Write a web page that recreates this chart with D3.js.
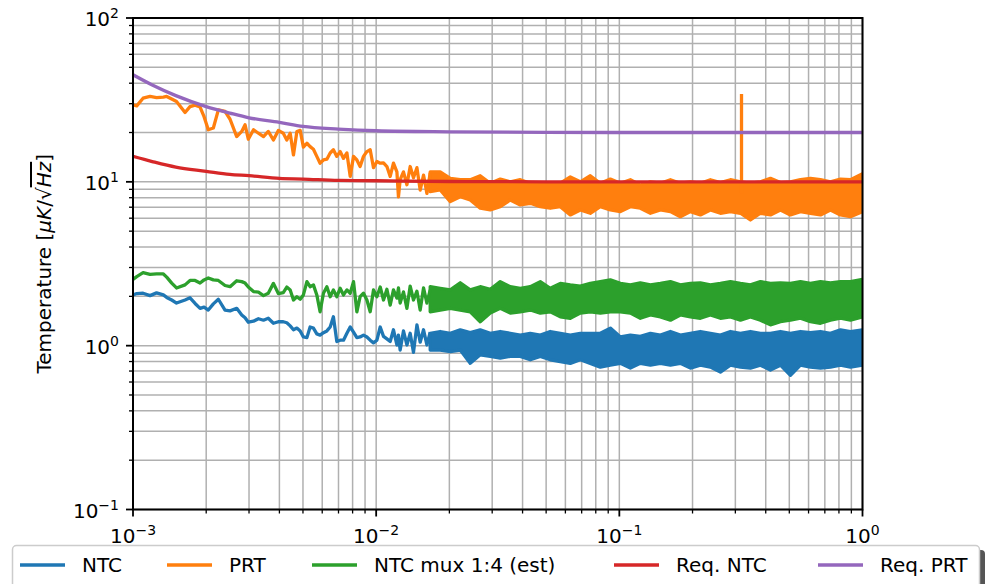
<!DOCTYPE html>
<html><head><meta charset="utf-8">
<script src="https://cdn.jsdelivr.net/npm/d3@7"></script>
<style>body{margin:0;background:#fff} svg{display:block} text{font-family:"DejaVu Sans",sans-serif;fill:#000}</style>
</head><body><svg id="c" width="1005" height="584"></svg>
<script>
// ---- data (frequency in Hz, temperature noise in uK/sqrt(Hz)) ----
const freqSparse = [0.001,0.001036,0.00110,0.001175,0.00125,0.001333,0.001376,0.001443,0.00151,0.001637,
  0.001716,0.00180,0.001887,0.00196,0.00204,0.00214,0.002244,0.00239,0.002507,0.00267,
  0.00280,0.00289,0.00298,0.00313,0.00328,0.00344,0.00360,0.00378,0.00396,0.00415,
  0.00429,0.00443,0.00457,0.00472,0.00487,0.00502,0.00519,0.00535,0.00552,0.00570,
  0.00588,0.00607,0.00627,0.00647,0.00667,0.00689,0.00711,0.00734,0.00758,0.00782,
  0.00807,0.00833,0.00859,0.00887,0.00916,0.00945,0.00975,0.01007,0.01039,0.01072,
  0.01107,0.01142,0.01178,0.01217,0.01235,0.01255,0.01295,0.01338,0.01380,0.01424,
  0.01471,0.01517,0.01566,0.01617,0.01668];
const prtSparse = [29.5,29.1,32.4,33.2,32.7,32.9,33.2,32.0,30.9,26.5,
  28.8,29.4,28.6,25.0,20.8,21.3,27.5,26.9,24.1,18.9,
  20.3,22.3,18.2,20.8,19.8,18.9,20.3,18.0,20.6,19.8,
  18.0,19.8,14.6,20.3,20.6,16.3,17.2,16.4,15.8,14.3,
  13.0,13.6,13.75,15.0,15.7,14.3,15.3,13.9,15.0,10.8,
  14.3,13.6,12.4,14.3,15.3,15.7,12.2,13.3,13.0,13.05,
  12.4,10.8,13.0,11.5,8.1,10.3,11.5,9.6,12.4,10.6,
  12.2,8.9,11.0,8.5,11.3];
const muxSparse = [2.54,2.64,2.79,2.72,2.74,2.74,2.62,2.41,2.25,2.35,
  2.50,2.50,2.41,2.52,2.59,2.52,2.50,2.33,2.29,2.49,
  2.46,2.41,2.28,2.14,2.12,2.02,2.09,2.40,2.08,2.11,
  2.28,2.19,1.90,1.99,1.92,2.04,2.46,2.29,2.35,2.04,
  1.61,2.09,2.29,1.99,2.19,1.99,2.24,2.04,2.19,2.09,
  2.46,1.61,1.99,2.09,1.90,1.61,2.19,1.99,2.28,1.90,
  2.21,1.77,2.19,1.95,2.25,1.82,2.13,1.69,2.31,1.90,
  2.15,1.65,2.25,1.82,2.19];
const ntcSparse = [2.04,2.08,2.09,2.02,2.10,2.04,1.97,1.90,1.82,1.90,
  1.96,1.81,1.69,1.72,1.65,1.80,1.92,1.65,1.63,1.69,
  1.54,1.48,1.39,1.41,1.46,1.43,1.47,1.37,1.40,1.40,
  1.38,1.32,1.25,1.28,1.23,1.13,1.12,1.30,1.28,1.18,
  1.16,1.20,1.23,1.30,1.50,1.06,1.08,1.08,1.19,1.30,
  1.21,1.12,1.13,1.16,1.13,1.08,1.04,1.08,1.30,1.14,
  1.10,1.06,1.25,1.01,1.16,0.94,1.23,1.01,1.19,0.91,
  1.34,1.05,1.25,1.01,1.21];

// dense high-frequency part: upper / lower envelope of the noise
const freqDense = [0.01668,0.01834,0.02017,0.02217,0.02437,0.02679,0.02946,0.03238,0.03560,0.03914,
  0.04303,0.04730,0.05200,0.05718,0.06286,0.06910,0.07597,0.08352,0.09183,0.1010,
  0.1110,0.1220,0.1342,0.1475,0.1622,0.1782,0.1960,0.2154,0.2368,0.2604,
  0.2863,0.3148,0.3460,0.3804,0.4182,0.4598,0.5054,0.5557,0.6109,0.6716,
  0.7383,0.8117,0.8924,1.0];
const prtHi = [11.5,11.5,10.5,10.3,10.3,10.9,9.81,10.4,10.0,10.3,9.81,9.89,9.81,9.81,10.7,10.0,10.9,9.81,10.4,9.81,
  10.3,9.57,10.0,9.81,10.3,9.81,10.0,9.81,10.3,9.89,10.3,10.0,9.81,10.0,10.5,9.89,10.0,10.3,10.5,10.3,10.0,10.4,10.3,11.2];
const prtLo = [8.71,8.92,7.57,8.12,7.75,6.90,6.74,7.05,7.75,7.23,7.40,7.05,6.90,7.05,6.28,6.74,6.43,7.05,6.74,6.58,
  7.05,6.90,6.43,6.74,6.58,6.13,6.58,6.28,6.74,6.43,6.58,6.43,5.85,6.43,6.28,6.74,6.28,6.58,6.43,6.28,6.74,6.28,6.13,6.58];
const muxHi = [2.29,2.24,2.19,2.42,2.19,2.29,2.21,2.46,2.29,2.24,2.29,2.46,2.24,2.40,2.35,2.31,2.40,2.46,2.52,2.40,
  2.35,2.42,2.35,2.40,2.46,2.35,2.40,2.42,2.35,2.40,2.46,2.40,2.35,2.46,2.40,2.42,2.40,2.46,2.40,2.46,2.42,2.46,2.46,2.54];
const muxLo = [1.61,1.65,1.69,1.65,1.61,1.40,1.58,1.69,1.58,1.61,1.65,1.58,1.61,1.50,1.47,1.58,1.61,1.58,1.61,1.61,
  1.58,1.47,1.54,1.50,1.43,1.54,1.50,1.47,1.54,1.47,1.50,1.43,1.50,1.43,1.34,1.40,1.43,1.47,1.40,1.37,1.43,1.47,1.43,1.50];
const ntcHi = [1.19,1.22,1.19,1.25,1.20,1.25,1.19,1.22,1.19,1.16,1.19,1.16,1.22,1.19,1.16,1.19,1.19,1.19,1.28,1.13,
  1.16,1.14,1.19,1.16,1.22,1.16,1.19,1.22,1.19,1.16,1.22,1.19,1.22,1.19,1.19,1.22,1.19,1.22,1.20,1.22,1.19,1.25,1.22,1.25];
const ntcLo = [0.94,0.94,0.92,0.94,0.78,0.88,0.86,0.84,0.86,0.86,0.82,0.86,0.82,0.80,0.78,0.82,0.78,0.74,0.76,0.78,
  0.73,0.78,0.76,0.78,0.76,0.78,0.73,0.76,0.74,0.69,0.76,0.74,0.73,0.76,0.71,0.76,0.66,0.76,0.74,0.73,0.74,0.76,0.74,0.76];
// narrow line in the PRT spectrum
const prtSpikeFreq = [0.318,0.318];
const prtSpikeVal = [8.5,34.4];

// requirement curves
const reqFreq = [0.001,0.0012,0.0015,0.002,0.0025,0.003,0.004,0.005,0.007,0.01,0.02,0.05,0.1,1];
const reqNTC = [14.3,13.3,12.3,11.6,11.1,10.9,10.5,10.4,10.2,10.15,10.05,10.0,10.0,10.0];
const reqPRT = [45,39,33.6,28.8,26.3,24.6,23.1,21.8,21.0,20.5,20.2,20.05,20.0,20.0];

const xTickLabels = ["−3","−2","−1","0"];
const yTickLabels = ["−1","0","1","2"];
const legendLabels = ["NTC","PRT","NTC mux 1:4 (est)","Req. NTC","Req. PRT"];
const colors = ["#1f77b4","#ff7f0e","#2ca02c","#d62728","#9467bd"];

// ---- drawing ----
const svg = d3.select("#c");
const L=133, R=862.5, T=18, B=509.5;
const LW = 3.3;
const x = d3.scaleLog().domain([1e-3,1]).range([L,R]);
const y = d3.scaleLog().domain([0.1,100]).range([B,T]);

svg.append("defs").append("clipPath").attr("id","clip")
  .append("rect").attr("x",L).attr("y",T).attr("width",R-L).attr("height",B-T);

const gx = x.ticks(), gy = y.ticks();
const isMajor = v => Math.abs(Math.log10(v) - Math.round(Math.log10(v))) < 1e-9;

// grid
const grid = svg.append("g").attr("stroke","#b0b0b0").attr("stroke-width",1.5);
grid.selectAll(".gx").data(gx).join("line").attr("x1",d=>x(d)).attr("x2",d=>x(d)).attr("y1",T).attr("y2",B);
grid.selectAll(".gy").data(gy).join("line").attr("y1",d=>y(d)).attr("y2",d=>y(d)).attr("x1",L).attr("x2",R);

const plot = svg.append("g").attr("clip-path","url(#clip)");
const line = (fs, vs) => d3.line().x((d,i)=>x(fs[i])).y(d=>y(d))(vs);
const area = (fs, lo, hi) => d3.area().x((d,i)=>x(fs[i])).y0((d,i)=>y(lo[i])).y1(d=>y(d))(hi);

function series(sparse, hi, lo, col){
  plot.append("path").attr("d", area(freqDense, lo, hi)).attr("fill", col)
    .attr("stroke", col).attr("stroke-width", LW).attr("stroke-linejoin","round");
  plot.append("path").attr("d", line(freqSparse, sparse)).attr("fill","none")
    .attr("stroke", col).attr("stroke-width", LW).attr("stroke-linejoin","round");
}
series(ntcSparse, ntcHi, ntcLo, colors[0]);
series(prtSparse, prtHi, prtLo, colors[1]);
plot.append("path").attr("d", line(prtSpikeFreq, prtSpikeVal)).attr("fill","none")
  .attr("stroke", colors[1]).attr("stroke-width", LW);
series(muxSparse, muxHi, muxLo, colors[2]);

const curve = (fs, vs) => d3.line().x((d,i)=>x(fs[i])).y(d=>y(d)).curve(d3.curveMonotoneX)(vs);
plot.append("path").attr("d", curve(reqFreq, reqNTC)).attr("fill","none").attr("stroke",colors[3]).attr("stroke-width",LW);
plot.append("path").attr("d", curve(reqFreq, reqPRT)).attr("fill","none").attr("stroke",colors[4]).attr("stroke-width",LW);

// frame
svg.append("rect").attr("x",L).attr("y",T).attr("width",R-L).attr("height",B-T)
  .attr("fill","none").attr("stroke","#000").attr("stroke-width",2);

// ticks
const tk = svg.append("g").attr("stroke","#000");
tk.selectAll(".tx").data(gx).join("line")
  .attr("x1",d=>x(d)).attr("x2",d=>x(d)).attr("y1",B).attr("y2",d=>B+(isMajor(d)?7:4))
  .attr("stroke-width",d=>isMajor(d)?1.8:1.3);
tk.selectAll(".ty").data(gy).join("line")
  .attr("y1",d=>y(d)).attr("y2",d=>y(d)).attr("x1",L).attr("x2",d=>L-(isMajor(d)?7:4))
  .attr("stroke-width",d=>isMajor(d)?1.8:1.3);

const majX = gx.filter(isMajor), majY = gy.filter(isMajor);
majX.forEach((v,i)=>{
  const t = svg.append("text").attr("x",x(v)).attr("y",543).attr("text-anchor","middle").attr("font-size",20);
  t.append("tspan").text("10");
  t.append("tspan").attr("dy",-8).attr("font-size",14).text(xTickLabels[i]);
});
majY.forEach((v,i)=>{
  const t = svg.append("text").attr("x",119).attr("y",y(v)+8).attr("text-anchor","end").attr("font-size",20);
  t.append("tspan").text("10");
  t.append("tspan").attr("dy",-8).attr("font-size",14).text(yTickLabels[i]);
});

// y label
const yl = svg.append("text").attr("transform",`translate(51,${(T+B)/2}) rotate(-90)`)
  .attr("text-anchor","middle").attr("font-size",20);
yl.append("tspan").text("Temperature [");
yl.append("tspan").attr("font-style","italic").text("μK");
yl.append("tspan").text("/√");
yl.append("tspan").attr("font-style","italic").style("text-decoration","overline").text("Hz");
yl.append("tspan").text("]");

// legend
const lg = svg.append("g");
lg.append("rect").attr("x",17).attr("y",550).attr("width",968).attr("height",60).attr("rx",4).attr("fill","#555");
lg.append("rect").attr("x",12.5).attr("y",545.5).attr("width",967).attr("height",60).attr("rx",4)
  .attr("fill","#fff").attr("stroke","#cccccc").attr("stroke-width",1.5);
const hx = [20,167,312,614,818];
legendLabels.forEach((s,i)=>{
  lg.append("line").attr("x1",hx[i]).attr("x2",hx[i]+45).attr("y1",565).attr("y2",565)
    .attr("stroke",colors[i]).attr("stroke-width",LW);
  lg.append("text").attr("x",hx[i]+62).attr("y",572).attr("font-size",20).text(s);
});
</script></body></html>
